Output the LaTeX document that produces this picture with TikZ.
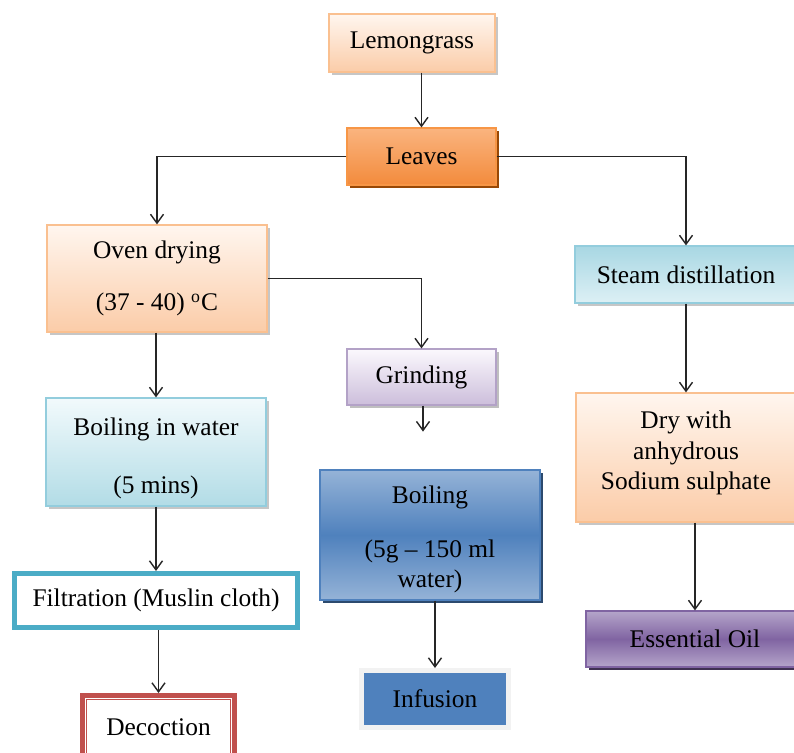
\documentclass[tikz,border=0pt]{standalone}
\usepackage{fontspec}
\setmainfont{Liberation Serif}
\usetikzlibrary{arrows.meta,calc,shadows}

\definecolor{peachline}{HTML}{FAC090}
\definecolor{peachtop}{HTML}{FFF6EF}
\definecolor{peachbot}{HTML}{FBCCA8}
\definecolor{orangetop}{HTML}{FAB47F}
\definecolor{orangebot}{HTML}{F38B3C}
\definecolor{orangeline}{HTML}{F79646}
\definecolor{orangeshade}{HTML}{984806}
\definecolor{aqualine}{HTML}{93CDDD}
\definecolor{aquatop}{HTML}{F2FAFC}
\definecolor{aquabot}{HTML}{B2DCE6}
\definecolor{steamtop}{HTML}{A8D7E3}
\definecolor{steambot}{HTML}{DDF0F5}
\definecolor{lilacline}{HTML}{B3A2C7}
\definecolor{lilactop}{HTML}{FBF8FD}
\definecolor{lilacbot}{HTML}{CCBEDB}
\definecolor{blueline}{HTML}{4F81BD}
\definecolor{bluelight}{HTML}{95B3D7}
\definecolor{blueshade}{HTML}{2C4A6E}
\definecolor{purpleline}{HTML}{8064A2}
\definecolor{purplelight}{HTML}{B5A5CA}
\definecolor{purpleshade}{HTML}{3F3151}
\definecolor{tealline}{HTML}{4BACC6}
\definecolor{redline}{HTML}{C0504D}
\definecolor{framegray}{HTML}{F2F2F2}
\definecolor{frameshade}{HTML}{A6B0BF}
\definecolor{arrowgray}{HTML}{262626}

\tikzset{
  box/.style={rectangle, inner sep=0pt, align=center, line width=0.6pt},
  softshadow/.style={drop shadow={shadow xshift=1.4pt, shadow yshift=-1.4pt, fill=#1, opacity=1}},
  peachbox/.style={box, draw=peachline, top color=peachtop, bottom color=peachbot, softshadow=gray!45},
  leafbox/.style={box, draw=orangeline, top color=orangetop, bottom color=orangebot, softshadow=orangeshade},
  aquabox/.style={box, draw=aqualine, top color=aquatop, bottom color=aquabot, softshadow=gray!45},
  steambox/.style={box, draw=aqualine, top color=steamtop, bottom color=steambot, softshadow=gray!45},
  lilacbox/.style={box, draw=lilacline, top color=lilactop, bottom color=lilacbot, softshadow=gray!50},
  bluebox/.style={box, draw=blueline, top color=bluelight, bottom color=bluelight, middle color=blueline, softshadow=blueshade},
  purplebox/.style={box, draw=purpleline, top color=purplelight, bottom color=purplelight, middle color=purpleline, softshadow=purpleshade},
  framebox/.style={box, line width=2.5pt},
  arr/.style={draw=arrowgray, line width=0.7pt, -{Straight Barb[length=4.5pt,width=6.5pt]}}
}

\begin{document}
\begin{tikzpicture}[x=0.5pt, y=-0.5pt, font=\fontsize{12.7}{15.2}\selectfont]
\useasboundingbox[fill=white] (0,0) rectangle (794,752);

% top
\node[peachbox, minimum width=83pt, minimum height=29pt] (lemon) at (412,43) {Lemongrass};
\node[leafbox, minimum width=74.5pt, minimum height=28.5pt] (leaves) at (421.5,156.5) {Leaves};

% left branch
\node[peachbox, minimum width=110pt, minimum height=53.5pt] (oven) at (157,278.5) {Oven drying\\[11pt](37 - 40) \textsuperscript{o}C};
\node[aquabox, minimum width=110pt, minimum height=54pt] (boilw) at (156,452) {\mbox{}\\[0pt]Boiling in water\\[14pt](5 mins)};
\node[framebox, draw=tealline, fill=white, minimum width=141.5pt, minimum height=27pt] (filt) at (156,600.5) {Filtration (Muslin cloth)};
\node[framebox, draw=redline, fill=white, minimum width=76pt, minimum height=32pt] (decoc) at (158.5,727.5) {Decoction};
\draw[redline, line width=0.8pt] ([shift={(3.2pt,-3.2pt)}]decoc.north west) rectangle ([shift={(-3.2pt,3.2pt)}]decoc.south east);

% middle branch
\node[lilacbox, minimum width=74.5pt, minimum height=28pt] (grind) at (421.5,377) {Grinding};
\coordinate (grindtip) at ($(grind.south)+(1.5,26)$);
\node[bluebox, minimum width=110pt, minimum height=65pt] (boilb) at (430,535) {\mbox{}\\[-2pt]Boiling\\[12pt](5g -- 150 ml\\water)};
\node[framebox, draw=framegray, fill=blueline, softshadow=frameshade, minimum width=73.5pt, minimum height=28.5pt] (infus) at (435,699) {Infusion};

% right branch
\node[steambox, minimum width=111pt, minimum height=28.5pt] (steam) at (686,274.5) {Steam distillation};
\node[peachbox, minimum width=110pt, minimum height=64.5pt] (dry) at (686,457.5) {Dry with\\anhydrous\\Sodium sulphate\\[-8pt]\mbox{}};
\node[purplebox, minimum width=109pt, minimum height=28pt] (oil) at (695,639) {Essential Oil};

% connectors
\draw[arr] (lemon.south -| leaves.north) -- (leaves.north);
\draw[arr] (leaves.west) -| (oven.north);
\draw[arr] (leaves.east) -| (steam.north);
\draw[arr] (oven.east) -| (grind.north);
\draw[arr] (grind.south -| grindtip) -- (grindtip);
\draw[arr] (boilb.south -| infus.north) -- (infus.north);
\draw[arr] (oven.south -| boilw.north) -- (boilw.north);
\draw[arr] (boilw.south) -- (filt.north);
\draw[arr] (filt.south -| decoc.north) -- (decoc.north);
\draw[arr] (steam.south) -- (dry.north);
\draw[arr] (dry.south -| oil.north) -- (oil.north);
\end{tikzpicture}
\end{document}
